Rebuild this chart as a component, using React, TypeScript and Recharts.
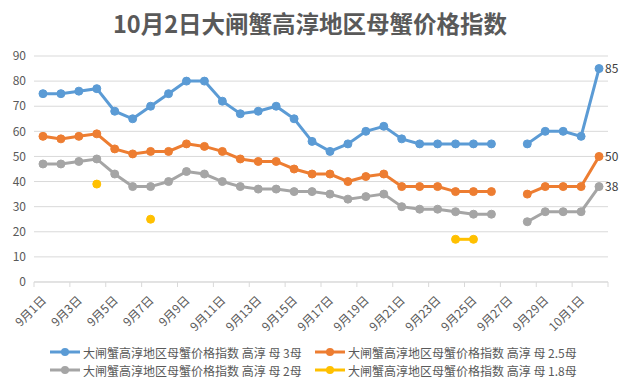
import { LineChart, Line, XAxis, YAxis, CartesianGrid, Legend, LabelList } from "recharts";

const days = [
  "9月1日", "9月2日", "9月3日", "9月4日", "9月5日", "9月6日", "9月7日", "9月8日",
  "9月9日", "9月10日", "9月11日", "9月12日", "9月13日", "9月14日", "9月15日", "9月16日",
  "9月17日", "9月18日", "9月19日", "9月20日", "9月21日", "9月22日", "9月23日", "9月24日",
  "9月25日", "9月26日", "9月27日", "9月28日", "9月29日", "9月30日", "10月1日", "10月2日",
];

const mu3 = [75, 75, 76, 77, 68, 65, 70, 75, 80, 80, 72, 67, 68, 70, 65, 56, 52, 55, 60, 62, 57, 55, 55, 55, 55, 55, null, 55, 60, 60, 58, 85];
const mu25 = [58, 57, 58, 59, 53, 51, 52, 52, 55, 54, 52, 49, 48, 48, 45, 43, 43, 40, 42, 43, 38, 38, 38, 36, 36, 36, null, 35, 38, 38, 38, 50];
const mu2 = [47, 47, 48, 49, 43, 38, 38, 40, 44, 43, 40, 38, 37, 37, 36, 36, 35, 33, 34, 35, 30, 29, 29, 28, 27, 27, null, 24, 28, 28, 28, 38];
const mu18 = [null, null, null, 39, null, null, 25, null, null, null, null, null, null, null, null, null, null, null, null, null, null, null, null, 17, 17, null, null, null, null, null, null, null];

const yTicks = [0, 10, 20, 30, 40, 50, 60, 70, 80, 90];

const series = [
  { key: "mu3", name: "大闸蟹高淳地区母蟹价格指数 高淳 母 3母", color: "#5b9bd5", end: true },
  { key: "mu25", name: "大闸蟹高淳地区母蟹价格指数 高淳 母 2.5母", color: "#ed7d31", end: true },
  { key: "mu2", name: "大闸蟹高淳地区母蟹价格指数 高淳 母 2母", color: "#a5a5a5", end: true },
  { key: "mu18", name: "大闸蟹高淳地区母蟹价格指数 高淳 母 1.8母", color: "#ffc000", end: false },
];

const data = days.map((day, i) => ({ day, mu3: mu3[i], mu25: mu25[i], mu2: mu2[i], mu18: mu18[i] }));

const W = 620;
const H = 385;
const M = { top: 56, right: 12, left: 4, bottom: 0 };
const Y_W = 30;
const band = (W - M.left - M.right - Y_W) / days.length;
const FONT = '"Noto Sans CJK SC", "Noto Sans", sans-serif';
const TEXT = "#595959";

function DayTick({ x, y, payload }: any) {
  const last = payload.value === days[days.length - 2];
  return (
    <g>
      <line x1={x - band / 2} x2={x - band / 2} y1={y} y2={y + 5} stroke="#d9d9d9" />
      {last && <line x1={x + band * 1.5} x2={x + band * 1.5} y1={y} y2={y + 5} stroke="#d9d9d9" />}
      <text
        transform={`translate(${x + 1},${y + 16}) rotate(-45)`}
        textAnchor="end"
        dy="0.35em"
        fontSize={12}
        fill={TEXT}
        fontFamily={FONT}
      >
        {payload.value}
      </text>
    </g>
  );
}

function endLabel(props: any) {
  const { x, y, value, index } = props;
  if (index !== days.length - 1 || value == null) return null;
  return (
    <text x={x + 6} y={y} dy="0.35em" fontSize={12} fill="#404040" fontFamily={FONT}>
      {value}
    </text>
  );
}

function LegendBox() {
  return (
    <div style={{ position: "relative", width: W, height: 36, fontSize: 12, color: TEXT, fontFamily: FONT }}>
      {series.map((s, i) => (
        <div
          key={s.key}
          style={{
            position: "absolute",
            left: i % 2 === 0 ? 50 : 315,
            top: i < 2 ? 0 : 18,
            height: 18,
            display: "flex",
            alignItems: "center",
            whiteSpace: "nowrap",
          }}
        >
          <svg width={30} height={10}>
            <line x1={0} x2={30} y1={5} y2={5} stroke={s.color} strokeWidth={3} />
            <circle cx={15} cy={5} r={4} fill={s.color} />
          </svg>
          <span style={{ marginLeft: 3 }}>{s.name}</span>
        </div>
      ))}
    </div>
  );
}

export default function App() {
  return (
    <div style={{ position: "absolute", left: 0, top: 0, width: W, height: H, background: "#fff", fontFamily: FONT }}>
      <div
        style={{
          position: "absolute",
          top: 8,
          left: 0,
          width: W,
          height: 30,
          lineHeight: "30px",
          textAlign: "center",
          fontSize: 23.5,
          fontWeight: "bold",
          color: TEXT,
          zIndex: 2,
        }}
      >
        10月2日大闸蟹高淳地区母蟹价格指数
      </div>
      <LineChart width={W} height={H} data={data} margin={M}>
        <CartesianGrid vertical={false} stroke="#d9d9d9" />
        <XAxis
          dataKey="day"
          interval={1}
          height={103}
          padding={{ left: band / 2, right: band / 2 }}
          axisLine={{ stroke: "#d9d9d9" }}
          tickLine={false}
          tickSize={0}
          tickMargin={0}
          tick={<DayTick />}
        />
        <YAxis
          width={Y_W}
          domain={[0, 90]}
          ticks={yTicks}
          axisLine={false}
          tickLine={false}
          tick={{ fill: TEXT, fontSize: 12, fontFamily: FONT }}
        />
        <Legend
          layout="vertical"
          verticalAlign="middle"
          align="center"
          wrapperStyle={{ top: 343, left: 0, width: W }}
          content={() => <LegendBox />}
        />
        {series.map((s) => (
          <Line
            key={s.key}
            dataKey={s.key}
            name={s.name}
            type="linear"
            stroke={s.color}
            strokeWidth={3}
            dot={{ r: 4, fill: s.color, stroke: s.color, strokeWidth: 1 }}
            activeDot={false}
            connectNulls={false}
            isAnimationActive={false}
          >
            {s.end && <LabelList dataKey={s.key} content={endLabel} />}
          </Line>
        ))}
      </LineChart>
    </div>
  );
}
